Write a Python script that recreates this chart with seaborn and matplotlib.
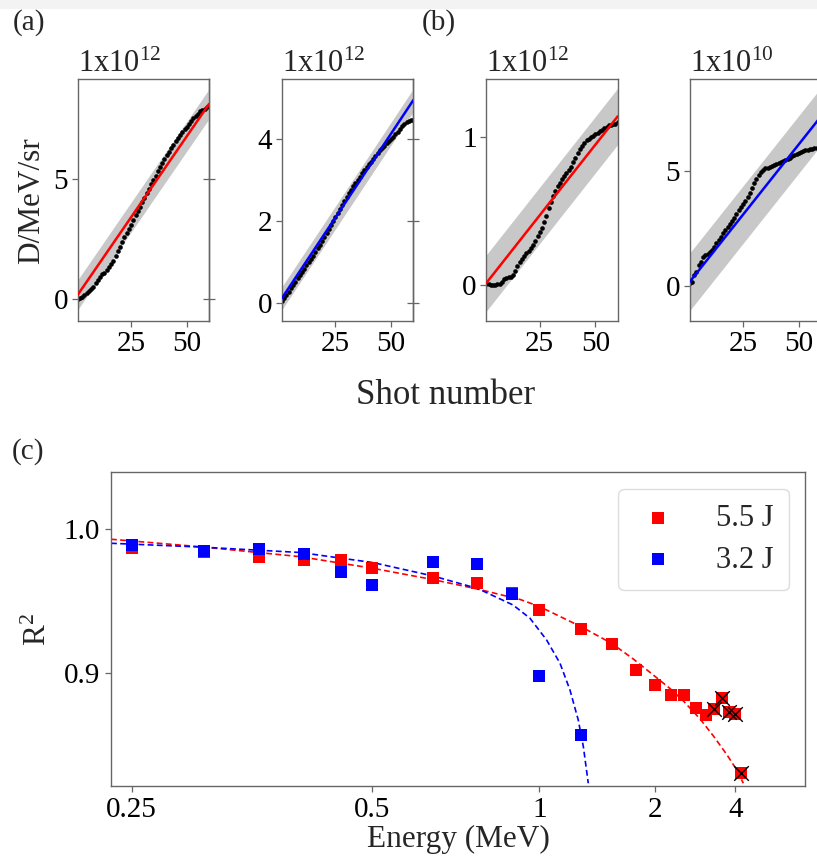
import numpy as np
import matplotlib
matplotlib.use("Agg")
import matplotlib.pyplot as plt
from matplotlib.patches import Rectangle
from matplotlib.ticker import FixedLocator, FixedFormatter, NullLocator
import seaborn as sns

# ---------------- data ----------------
shots = np.arange(1, 61)

# cumulative dose per shot (panel a: 5.5 J, panel b: 3.2 J)
a1_dose = [0.00, 0.03, 0.08, 0.17, 0.26, 0.34, 0.42, 0.51, 0.65, 0.80,
           0.93, 1.02, 1.10, 1.20, 1.32, 1.45, 1.60, 1.79, 1.98, 2.18,
           2.37, 2.56, 2.74, 2.92, 3.10, 3.29, 3.48, 3.66, 3.85, 4.03,
           4.22, 4.40, 4.59, 4.78, 4.96, 5.14, 5.33, 5.51, 5.68, 5.84,
           6.00, 6.14, 6.28, 6.42, 6.56, 6.70, 6.83, 6.95, 7.07, 7.18,
           7.30, 7.42, 7.53, 7.63, 7.72, 7.81, 7.87, 7.93, 7.98, 8.02]
a2_dose = [0.05, 0.12, 0.19, 0.27, 0.35, 0.43, 0.51, 0.59, 0.67, 0.75,
           0.83, 0.91, 0.99, 1.07, 1.15, 1.24, 1.33, 1.42, 1.51, 1.60,
           1.69, 1.79, 1.89, 1.99, 2.09, 2.19, 2.29, 2.39, 2.49, 2.58,
           2.67, 2.76, 2.84, 2.92, 3.00, 3.08, 3.16, 3.24, 3.31, 3.38,
           3.45, 3.52, 3.59, 3.66, 3.72, 3.78, 3.84, 3.90, 3.95, 4.00,
           4.06, 4.12, 4.18, 4.25, 4.31, 4.37, 4.41, 4.44, 4.46, 4.47]
b1_dose = [0.01, 0.01, 0.00, 0.00, 0.00, 0.01, 0.01, 0.02, 0.04, 0.05,
           0.06, 0.06, 0.07, 0.10, 0.13, 0.16, 0.18, 0.20, 0.22, 0.23,
           0.25, 0.27, 0.30, 0.33, 0.36, 0.39, 0.43, 0.47, 0.52, 0.56,
           0.60, 0.64, 0.67, 0.69, 0.72, 0.74, 0.76, 0.78, 0.80, 0.83,
           0.86, 0.89, 0.92, 0.94, 0.96, 0.98, 0.99, 1.00, 1.01, 1.02,
           1.03, 1.04, 1.05, 1.06, 1.07, 1.08, 1.08, 1.09, 1.09, 1.10]
b2_dose = [0.10, 0.17, 0.45, 0.60, 0.90, 1.05, 1.25, 1.32, 1.40, 1.45,
           1.55, 1.68, 1.85, 1.98, 2.10, 2.30, 2.43, 2.55, 2.68, 2.80,
           2.95, 3.10, 3.28, 3.42, 3.55, 3.70, 3.85, 4.05, 4.25, 4.45,
           4.62, 4.80, 4.95, 5.05, 5.10, 5.13, 5.16, 5.19, 5.23, 5.28,
           5.33, 5.38, 5.42, 5.47, 5.52, 5.57, 5.62, 5.68, 5.73, 5.78,
           5.82, 5.85, 5.88, 5.91, 5.94, 5.96, 5.98, 6.00, 6.02, 6.03]

# linear fits: value at first and last shot, and half width of the band
fit_shots = [1, 60]
a1_fit = [0.17, 8.12]
a2_fit = [0.11, 4.95]
b1_fit = [0.016, 1.14]
b2_fit = [0.17, 7.36]
a1_band, a2_band, b1_band, b2_band = 0.62, 0.28, 0.19, 1.25

scale_labels = ["1x10$^{12}$", "1x10$^{12}$", "1x10$^{12}$", "1x10$^{10}$"]
y_ticks = [[0, 5], [0, 2, 4], [0, 1], [0, 5]]
y_limits = [(-0.92, 9.15), (-0.45, 5.46), (-0.24, 1.39), (-1.53, 8.97)]
x_ticks_top = [25, 50]

# R^2 of the linear fit versus proton energy
energy_55 = [0.25, 0.3, 0.35, 0.4, 0.45, 0.5, 0.625, 0.75, 0.875, 1.0, 1.25,
             1.5, 1.75, 2.0, 2.25, 2.5, 2.75, 3.0, 3.25, 3.5, 3.75, 4.0, 4.25]
r2_55 = [0.987, 0.984, 0.981, 0.979, 0.979, 0.973, 0.966, 0.963, 0.956, 0.944,
         0.931, 0.920, 0.902, 0.892, 0.885, 0.885, 0.876, 0.871, 0.875, 0.883,
         0.873, 0.872, 0.831]
energy_32 = [0.25, 0.3, 0.35, 0.4, 0.45, 0.5, 0.625, 0.75, 0.875, 1.0, 1.25]
r2_32 = [0.989, 0.985, 0.986, 0.983, 0.970, 0.961, 0.977, 0.976, 0.955, 0.898, 0.857]
excluded_energy = [3.25, 3.5, 3.75, 4.0, 4.25]

trend_55_energy = [0.238, 0.297, 0.395, 0.501, 0.625, 0.751, 0.91, 1.0, 1.248, 1.496,
                   1.72, 1.975, 2.236, 2.484, 2.858, 3.222, 3.665, 4.06, 4.357]
trend_55_r2 = [0.9931, 0.9879, 0.9810, 0.9729, 0.9651, 0.9585, 0.9513, 0.9464, 0.9324,
               0.9208, 0.9099, 0.8988, 0.8894, 0.8808, 0.8683, 0.8565, 0.8436, 0.8329, 0.8236]
trend_32_energy = [0.238, 0.297, 0.395, 0.501, 0.625, 0.751, 0.881, 0.955, 1.038,
                   1.113, 1.174, 1.229, 1.265, 1.301]
trend_32_r2 = [0.9903, 0.9877, 0.9839, 0.9769, 0.9676, 0.9589, 0.9474, 0.9382, 0.9231,
               0.9069, 0.8884, 0.8676, 0.8490, 0.8236]

energy_ticks = [0.25, 0.5, 1, 2, 4]
energy_tick_labels = ["0.25", "0.5", "1", "2", "4"]
r2_ticks = [0.9, 1.0]
r2_tick_labels = ["0.9", "1.0"]

# ---------------- style ----------------
sns.set_style("ticks")
plt.rcParams.update({
    "font.family": ["Liberation Serif", "DejaVu Serif"],
    "mathtext.fontset": "custom",
    "mathtext.rm": "Liberation Serif",
    "mathtext.it": "Liberation Serif:italic",
    "mathtext.bf": "Liberation Serif:bold",
    "axes.edgecolor": "#666666",
    "axes.linewidth": 1.0,
    "xtick.color": "#666666",
    "ytick.color": "#666666",
    "xtick.labelcolor": "black",
    "ytick.labelcolor": "black",
    "xtick.major.size": 4,
    "ytick.major.size": 4,
    "xtick.major.width": 0.9,
    "ytick.major.width": 0.9,
})

W, H = 817, 859
fig = plt.figure(figsize=(W / 100, H / 100), dpi=100)
fig.patches.append(Rectangle((0, 1 - 9 / H), 1, 9 / H, transform=fig.transFigure,
                             facecolor="#f3f3f3", edgecolor="none", zorder=0))


def px_axes(left, right, top, bottom):
    return fig.add_axes([left / W, 1 - bottom / H, (right - left) / W, (bottom - top) / H])


TICK_FS = 21
top_boxes = [(77.7, 209.0), (282.0, 413.3), (486.3, 617.7), (689.7, 821.0)]
doses = [a1_dose, a2_dose, b1_dose, b2_dose]
fits = [a1_fit, a2_fit, b1_fit, b2_fit]
bands = [a1_band, a2_band, b1_band, b2_band]
colors = ["#ff0000", "#0000ff", "#ff0000", "#0000ff"]

for i in range(4):
    left, right = top_boxes[i]
    ax = px_axes(left, right, 79.3, 321.0)
    fit = np.array(fits[i])
    ax.fill_between(fit_shots, fit - bands[i], fit + bands[i], color="#c8c8c8",
                    linewidth=0, zorder=1)
    sns.scatterplot(x=shots, y=doses[i], ax=ax, color="black", s=11, linewidth=0,
                    zorder=2, legend=False)
    sns.lineplot(x=fit_shots, y=fit, ax=ax, color=colors[i], linewidth=1.8,
                 zorder=3, legend=False)
    ax.set_xlim(1, 60)
    ax.set_ylim(*y_limits[i])
    ax.xaxis.set_major_locator(FixedLocator(x_ticks_top))
    ax.yaxis.set_major_locator(FixedLocator(y_ticks[i]))
    ax.tick_params(labelsize=TICK_FS, pad=3)
    ax.set_title(scale_labels[i], loc="left", fontsize=22, pad=1)
    if i < 2:
        sec = ax.secondary_yaxis("right")
        sec.yaxis.set_major_locator(FixedLocator(y_ticks[i]))
        sec.tick_params(direction="inout", length=9, labelright=False)
    if i == 0:
        ax.set_ylabel("D/MeV/sr", fontsize=22.5, va="center")
        ax.yaxis.set_label_coords(-0.35, 0.5)

fig.text(445.8 / W, 1 - 395 / H, "Shot number", fontsize=25, ha="center", va="center")
fig.text(13 / W, 1 - 23 / H, "(a)", fontsize=21, ha="left", va="center")
fig.text(421.7 / W, 1 - 23 / H, "(b)", fontsize=21, ha="left", va="center")
fig.text(12 / W, 1 - 451.7 / H, "(c)", fontsize=21, ha="left", va="center")

# ---------------- R^2 panel ----------------
K = 0.528


def fwd(e):
    e = np.asarray(e, dtype=float)
    return -np.power(np.maximum(e, 1e-9), -K)


def inv(t):
    t = np.asarray(t, dtype=float)
    return np.power(np.maximum(-t, 1e-9), -1.0 / K)


axc = px_axes(111.0, 805.0, 472.3, 786.0)
axc.set_xscale("function", functions=(fwd, inv))

sns.lineplot(x=trend_55_energy, y=trend_55_r2, ax=axc, color="#ff0000", linewidth=1.2,
             linestyle=(0, (3.5, 2)), sort=False, estimator=None, zorder=2, legend=False)
sns.lineplot(x=trend_32_energy, y=trend_32_r2, ax=axc, color="#0000ff", linewidth=1.2,
             linestyle=(0, (3.5, 2)), sort=False, estimator=None, zorder=2, legend=False)
sns.scatterplot(x=energy_55, y=r2_55, ax=axc, color="#ff0000", marker="s", s=80,
                linewidth=0, zorder=3, label="5.5 J")
sns.scatterplot(x=energy_32, y=r2_32, ax=axc, color="#0000ff", marker="s", s=72,
                linewidth=0, zorder=4, label="3.2 J")
excluded_r2 = [r2_55[energy_55.index(e)] for e in excluded_energy]
sns.scatterplot(x=excluded_energy, y=excluded_r2, ax=axc, color="black", marker="x",
                s=110, linewidth=1.0, zorder=5, legend=False)

axc.set_xlim(0.238, 10.0)
axc.set_ylim(0.8217, 1.0396)
axc.xaxis.set_major_locator(FixedLocator(energy_ticks))
axc.xaxis.set_major_formatter(FixedFormatter(energy_tick_labels))
axc.xaxis.set_minor_locator(NullLocator())
axc.yaxis.set_major_locator(FixedLocator(r2_ticks))
axc.yaxis.set_major_formatter(FixedFormatter(r2_tick_labels))
axc.tick_params(labelsize=TICK_FS, pad=4)
axc.set_xlabel("Energy (MeV)", fontsize=22.5, va="center")
axc.xaxis.set_label_coords(0.5, -0.172)
axc.set_ylabel("R$^2$", fontsize=22.5, va="center")
axc.yaxis.set_label_coords(-0.105, 0.5)

leg = axc.legend(loc="upper right", bbox_to_anchor=(0.977, 0.9467), borderaxespad=0,
                 fontsize=22, handletextpad=1.1, handlelength=1.6, borderpad=0.5,
                 labelspacing=0.4, frameon=True, fancybox=True, framealpha=1)
leg.get_frame().set_edgecolor("#dddddd")
leg.get_frame().set_linewidth(1.0)

fig.savefig("out.png", dpi=100)
